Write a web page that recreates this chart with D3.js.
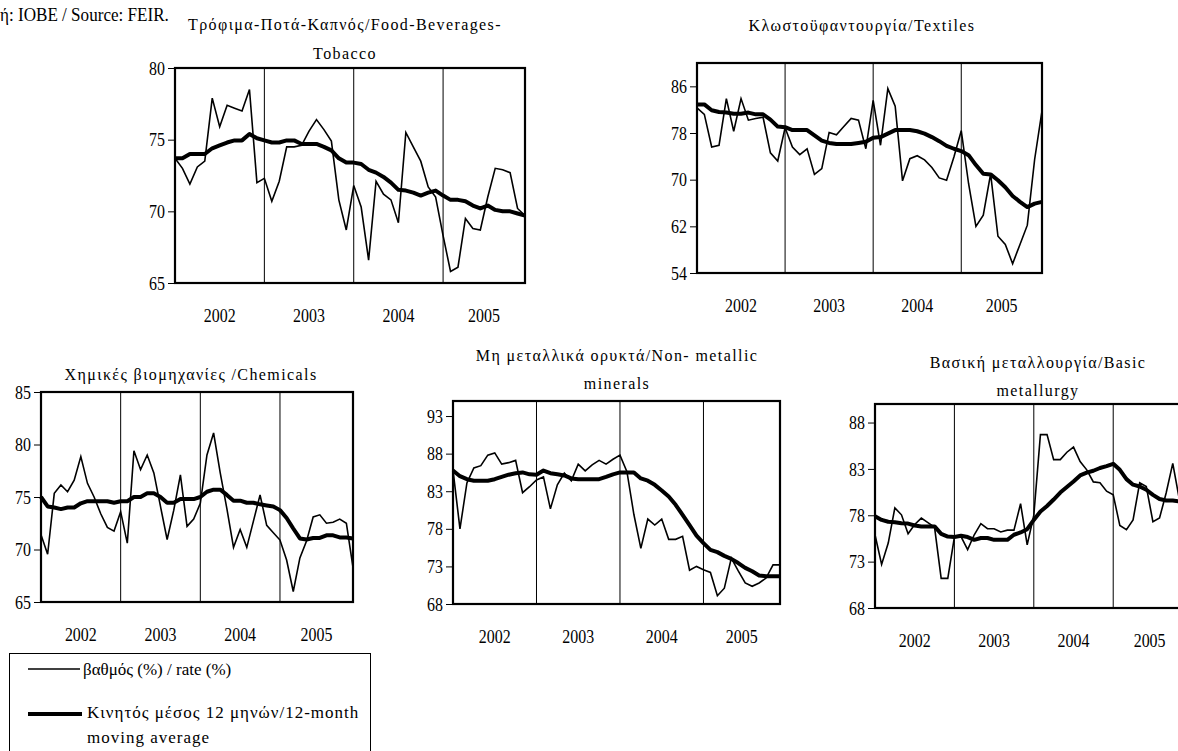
<!DOCTYPE html>
<html>
<head>
<meta charset="utf-8">
<script src="https://cdn.jsdelivr.net/npm/d3@7"></script>
<style>
  body { margin: 0; background: #fff; }
  svg text { font-family: "Liberation Serif", "Times New Roman", serif !important; fill: #000; }
  .title { font-size: 16px; letter-spacing: 1.4px; }
  .num { font-size: 19px; }
  .legend text { font-size: 17px; }
</style>
</head>
<body>
<div id="chart"></div>
<script>
// monthly values Jan 2002 - Dec 2005
var years = ['2002', '2003', '2004', '2005'];

var foodRate = [73.7, 73.0, 71.9, 73.1, 73.5, 77.9, 75.9, 77.4, 77.2, 77.0, 78.5, 72.0,
    72.3, 70.7, 72.1, 74.5, 74.5, 74.6, 75.6, 76.4, 75.7, 74.9, 70.8, 68.7,
    71.8, 70.3, 66.6, 72.1, 71.2, 70.8, 69.2, 75.5, 74.5, 73.5, 71.7, 71.0,
    68.3, 65.8, 66.1, 69.5, 68.8, 68.7, 71.0, 73.0, 72.9, 72.7, 70.2, 69.7];
var foodAvg = [73.7, 73.7, 74.0, 74.0, 74.0, 74.4, 74.6, 74.8, 74.95, 74.95, 75.4, 75.1,
    74.95, 74.8, 74.8, 74.95, 74.95, 74.7, 74.7, 74.7, 74.5, 74.25, 73.7, 73.4,
    73.4, 73.3, 72.9, 72.7, 72.4, 72.0, 71.5, 71.45, 71.3, 71.1, 71.3, 71.45,
    71.1, 70.8, 70.8, 70.7, 70.4, 70.2, 70.4, 70.1, 70.0, 70.0, 69.85, 69.7];

var textRate = [82.3, 81.2, 75.6, 75.9, 83.9, 78.3, 83.9, 80.2, 80.5, 80.7, 74.6, 73.2,
    78.9, 75.6, 74.3, 75.3, 70.9, 71.9, 78.1, 77.7, 79.1, 80.5, 80.2, 75.3,
    83.6, 75.9, 85.6, 82.6, 69.8, 73.6, 74.1, 73.4, 72.1, 70.3, 69.9, 73.9,
    78.4, 69.3, 62.0, 63.9, 71.0, 60.3, 58.9, 55.6, 58.9, 62.2, 73.5, 81.8];
var textAvg = [82.9, 82.9, 81.9, 81.6, 81.5, 81.3, 81.3, 81.5, 81.2, 81.2, 80.3, 79.1,
    79.0, 78.5, 78.5, 78.5, 77.6, 76.7, 76.3, 76.1, 76.1, 76.1, 76.3, 76.5,
    77.2, 77.3, 77.9, 78.5, 78.5, 78.5, 78.3, 77.9, 77.3, 76.6, 75.8, 75.3,
    74.9, 74.2, 72.5, 71.0, 70.9, 69.9, 68.7, 67.2, 66.2, 65.3, 65.9, 66.2];

var chemRate = [71.4, 69.55, 75.35, 76.15, 75.5, 76.6, 78.85, 76.3, 75.0, 73.4, 72.1, 71.75,
    73.6, 70.6, 79.4, 77.6, 79.0, 77.3, 74.1, 70.95, 73.75, 77.1, 72.2, 72.9,
    74.4, 79.0, 81.1, 77.3, 73.9, 70.2, 71.9, 70.2, 72.7, 75.2, 72.3, 71.6,
    70.9, 69.0, 66.0, 69.2, 70.8, 73.1, 73.3, 72.5, 72.6, 72.9, 72.5, 68.3];
var chemAvg = [75.0, 74.1, 74.0, 73.85, 74.0, 74.0, 74.4, 74.6, 74.6, 74.6, 74.6, 74.45,
    74.6, 74.6, 75.0, 75.0, 75.35, 75.35, 75.0, 74.45, 74.45, 74.8, 74.8, 74.8,
    75.0, 75.5, 75.7, 75.7, 75.2, 74.65, 74.65, 74.45, 74.45, 74.3, 74.2, 74.1,
    73.75, 73.0, 72.0, 71.05, 70.95, 71.1, 71.1, 71.35, 71.35, 71.15, 71.15, 71.05];

var mineralRate = [85.8, 78.0, 84.1, 86.1, 86.4, 87.8, 88.1, 86.6, 86.8, 87.1, 82.8, 83.6,
    84.5, 84.9, 80.65, 83.85, 85.4, 84.4, 86.6, 85.7, 86.5, 87.1, 86.6, 87.25,
    87.8, 85.6, 79.9, 75.4, 79.3, 78.5, 79.3, 76.6, 76.6, 77.0, 72.5, 73.0,
    72.55, 72.2, 69.1, 70.1, 74.1, 72.4, 70.8, 70.35, 70.8, 71.45, 73.2, 73.2];
var mineralAvg = [85.75, 85.0, 84.6, 84.4, 84.4, 84.4, 84.6, 84.9, 85.2, 85.4, 85.5, 85.25,
    85.2, 85.75, 85.4, 85.25, 85.1, 84.7, 84.6, 84.6, 84.6, 84.6, 84.9, 85.25,
    85.5, 85.5, 85.5, 84.7, 84.4, 83.85, 83.1, 82.3, 81.2, 79.85, 78.5, 77.1,
    76.1, 75.2, 74.9, 74.4, 74.0, 73.45, 72.8, 72.35, 71.8, 71.7, 71.7, 71.7];

var metalRate = [75.9, 72.7, 75.0, 78.8, 78.05, 76.0, 77.0, 77.7, 77.2, 76.7, 71.2, 71.2,
    75.65, 75.7, 74.3, 75.9, 77.1, 76.55, 76.55, 76.2, 76.4, 76.4, 79.25, 74.8,
    78.0, 86.7, 86.7, 84.0, 84.0, 84.8, 85.35, 83.8, 82.9, 81.6, 81.5, 80.6,
    80.2, 76.9, 76.45, 77.5, 81.5, 81.1, 77.3, 77.7, 80.4, 83.6, 79.7, 79.5];
var metalAvg = [77.9, 77.5, 77.3, 77.25, 77.15, 77.1, 76.9, 76.8, 76.8, 76.8, 76.0, 75.7,
    75.65, 75.8, 75.65, 75.35, 75.55, 75.55, 75.35, 75.35, 75.35, 75.9, 76.15, 76.5,
    77.5, 78.4, 79.0, 79.7, 80.45, 81.05, 81.65, 82.3, 82.6, 82.8, 83.1, 83.3,
    83.55, 82.9, 81.9, 81.3, 81.1, 80.75, 80.2, 79.75, 79.6, 79.6, 79.5, 79.25];

var foodTicks = [65, 70, 75, 80];
var textTicks = [54, 62, 70, 78, 86];
var chemTicks = [65, 70, 75, 80, 85];
var mineralTicks = [68, 73, 78, 83, 88, 93];
var metalTicks = [68, 73, 78, 83, 88];

var W = 1178, H = 751,
    squeeze = 0.84; // the numbers in the original are narrow

var svg = d3.select('#chart').append('svg')
    .attr('width', W)
    .attr('height', H);

// source note (left part is cut off in the original)
svg.append('text')
    .attr('class', 'num')
    .attr('transform', 'translate(0,21) scale(0.9,1)')
    .text('ή: IOBE / Source: FEIR.');

var panels = [
    {title: ['Τρόφιμα-Ποτά-Καπνός/Food-Beverages-', 'Tobacco'], titleY: [30, 59], titleX: 345,
        rate: foodRate, avg: foodAvg, domain: [65, 80], ticks: foodTicks,
        left: 175, right: 525, top: 68, bottom: 283},
    {title: ['Κλωστοϋφαντουργία/Textiles'], titleY: [31], titleX: 862,
        rate: textRate, avg: textAvg, domain: [54, 90], ticks: textTicks,
        left: 697, right: 1042, top: 63, bottom: 273},
    {title: ['Χημικές βιομηχανίες /Chemicals'], titleY: [380], titleX: 191,
        rate: chemRate, avg: chemAvg, domain: [65, 85], ticks: chemTicks,
        left: 41, right: 353, top: 392, bottom: 602},
    {title: ['Μη μεταλλικά ορυκτά/Non- metallic', 'minerals'], titleY: [361, 389], titleX: 617,
        rate: mineralRate, avg: mineralAvg, domain: [68, 95], ticks: mineralTicks,
        left: 453, right: 780, top: 401, bottom: 604},
    {title: ['Βασική μεταλλουργία/Basic', 'metallurgy'], titleY: [368, 396], titleX: 1038,
        rate: metalRate, avg: metalAvg, domain: [68, 90], ticks: metalTicks,
        left: 875, right: 1186, top: 404, bottom: 608}
];

panels.forEach(function (p) {
    var x = d3.scaleLinear().domain([0, p.rate.length - 1]).range([p.left, p.right]);
    var y = d3.scaleLinear().domain(p.domain).range([p.bottom, p.top]);
    var g = svg.append('g');

    // title
    p.title.forEach(function (t, k) {
        g.append('text')
            .attr('class', 'title')
            .attr('x', p.titleX)
            .attr('y', p.titleY[k])
            .attr('text-anchor', 'middle')
            .text(t);
    });

    // year separators
    [12, 24, 36].forEach(function (m) {
        g.append('line')
            .attr('x1', x(m)).attr('x2', x(m))
            .attr('y1', p.top).attr('y2', p.bottom)
            .attr('stroke', '#000')
            .attr('stroke-width', 1);
    });

    // year labels centred in each year
    years.forEach(function (yr, k) {
        var a = k * 12, b = Math.min(k * 12 + 12, p.rate.length - 1);
        var cx = (x(a) + x(b)) / 2;
        g.append('text')
            .attr('class', 'num')
            .attr('transform', 'translate(' + cx + ',' + (p.bottom + 39) + ') scale(' + squeeze + ',1)')
            .attr('text-anchor', 'middle')
            .text(yr);
    });

    // y axis
    var yAxis = d3.axisLeft(y)
        .tickValues(p.ticks)
        .tickSize(7)
        .tickPadding(3)
        .tickFormat(d3.format('d'));
    var gy = g.append('g')
        .attr('transform', 'translate(' + p.left + ',0)')
        .call(yAxis);
    gy.select('.domain').remove();
    gy.selectAll('.tick line').attr('stroke-width', 1);
    gy.selectAll('.tick text')
        .attr('class', 'num')
        .attr('x', -10 / squeeze)
        .attr('transform', 'scale(' + squeeze + ',1)');

    // lines
    var line = d3.line()
        .x(function (d, i) { return x(i); })
        .y(function (d) { return y(d); });

    g.append('path')
        .datum(p.rate)
        .attr('d', line)
        .attr('fill', 'none')
        .attr('stroke', '#000')
        .attr('stroke-width', 1.6)
        .attr('stroke-linejoin', 'miter');

    g.append('path')
        .datum(p.avg)
        .attr('d', line)
        .attr('fill', 'none')
        .attr('stroke', '#000')
        .attr('stroke-width', 4)
        .attr('stroke-linejoin', 'round');

    // frame
    g.append('rect')
        .attr('x', p.left).attr('y', p.top)
        .attr('width', p.right - p.left)
        .attr('height', p.bottom - p.top)
        .attr('fill', 'none')
        .attr('stroke', '#000')
        .attr('stroke-width', 2.2);
});

// legend
var legend = svg.append('g').attr('class', 'legend');
legend.append('rect')
    .attr('x', 9.5).attr('y', 653.5)
    .attr('width', 361).attr('height', 110)
    .attr('fill', 'none')
    .attr('stroke', '#000')
    .attr('stroke-width', 1);
legend.append('line')
    .attr('x1', 28).attr('x2', 80).attr('y1', 669).attr('y2', 669)
    .attr('stroke', '#000').attr('stroke-width', 1.5);
legend.append('text')
    .attr('x', 83).attr('y', 675)
    .text('βαθμός (%) / rate (%)');
legend.append('line')
    .attr('x1', 28).attr('x2', 82).attr('y1', 714).attr('y2', 714)
    .attr('stroke', '#000').attr('stroke-width', 4);
legend.append('text')
    .attr('x', 87).attr('y', 718)
    .attr('letter-spacing', '1px')
    .text('Κινητός μέσος 12 μηνών/12-month');
legend.append('text')
    .attr('x', 87).attr('y', 743)
    .attr('letter-spacing', '1px')
    .text('moving average');
</script>
</body>
</html>
